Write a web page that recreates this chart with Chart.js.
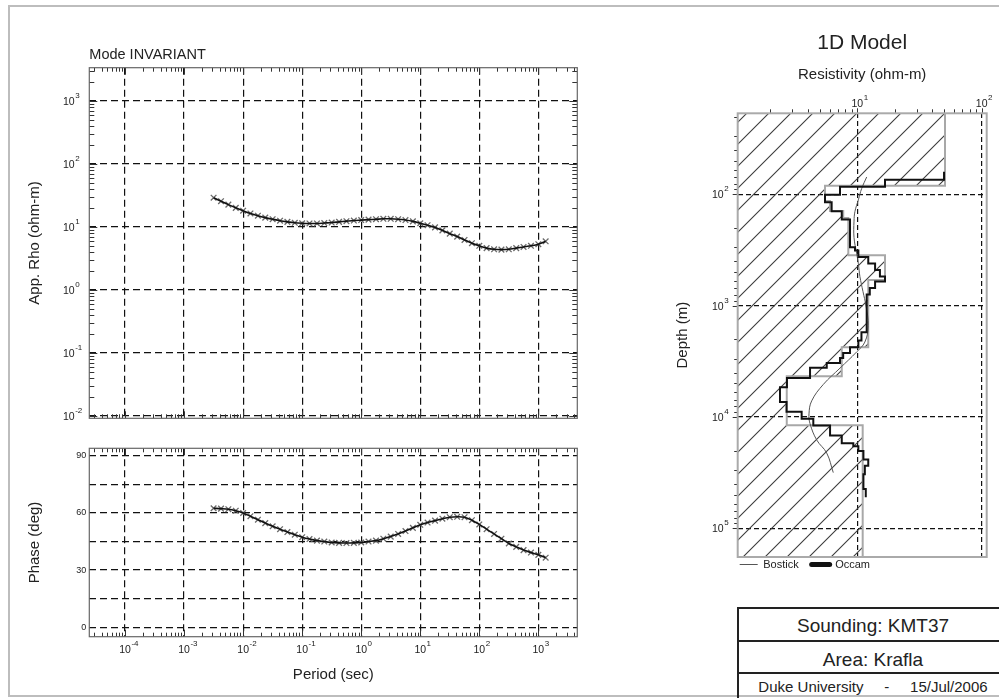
<!DOCTYPE html>
<html>
<head>
<meta charset="utf-8">
<script src="https://cdn.jsdelivr.net/npm/chart.js@4.4.1/dist/chart.umd.min.js"></script>
<style>
  html, body { margin: 0; padding: 0; background: #fff; }
  #page { position: relative; width: 999px; height: 698px; overflow: hidden; background: #fff;
          font-family: "Liberation Sans", Arial, Helvetica, sans-serif; color: #222; }
  #page canvas { position: absolute; }
  .border { position: absolute; left: 8px; top: 5px; width: 1010px; height: 692px;
            border: 2px solid #bdbdbd; box-sizing: border-box; }
  .hl { position: absolute; left: 737px; width: 280px; height: 2px; background: #222; }
  .vl { position: absolute; left: 737px; top: 607px; width: 2px; height: 100px; background: #222; }
  .cell { position: absolute; left: 739px; width: 268px; text-align: center; line-height: 20px; white-space: pre; }
</style>
</head>
<body>
<div id="page">
  <div class="border"></div>
  <canvas id="rhoChart" width="620" height="430" style="left:0;top:0"></canvas>
  <canvas id="phaseChart" width="620" height="268" style="left:0;top:430px"></canvas>
  <canvas id="modelChart" width="359" height="600" style="left:640px;top:0"></canvas>

  <!-- sounding stamp -->
  <div class="hl" style="top:607px"></div>
  <div class="hl" style="top:639.5px"></div>
  <div class="hl" style="top:671.5px"></div>
  <div class="vl"></div>
  <div class="cell" style="top:616px;font-size:19px">Sounding: KMT37</div>
  <div class="cell" style="top:649.5px;font-size:19px">Area: Krafla</div>
  <div class="cell" style="top:676.5px;font-size:15px">Duke University     -     15/Jul/2006</div>
</div>

<script>
const FONT = '"Liberation Sans", Arial, Helvetica, sans-serif';
Chart.defaults.font.family = FONT;
Chart.defaults.color = '#222';

// sounding curves (period in s)
const periods = [0.00316, 0.00422, 0.00562, 0.0075, 0.01, 0.0133, 0.0178, 0.0237, 0.0316, 0.0422,
    0.0562, 0.075, 0.1, 0.133, 0.178, 0.237, 0.316, 0.422, 0.562, 0.75,
    1, 1.33, 1.78, 2.37, 3.16, 4.22, 5.62, 7.5, 10, 13.3,
    17.8, 23.7, 31.6, 42.2, 56.2, 75, 100, 133, 178, 237,
    316, 422, 562, 750, 1000, 1330];
const appRho = [29, 25.5, 22.5, 20, 18, 16.3, 15, 14, 13.2, 12.5,
    12, 11.6, 11.4, 11.3, 11.3, 11.5, 11.7, 12, 12.3, 12.6,
    12.8, 13, 13.2, 13.4, 13.4, 13.2, 12.8, 12.2, 11.4, 10.6,
    9.8, 8.8, 7.8, 7, 6.2, 5.5, 5.0, 4.6, 4.4, 4.35,
    4.4, 4.6, 4.8, 5.0, 5.3, 5.9];
const phaseDeg = [62.5, 62.3, 62, 61.2, 60, 58.3, 56.5, 54.7, 53, 51.5,
    50, 48.6, 47.3, 46.3, 45.5, 45, 44.5, 44.3, 44.2, 44.3,
    44.5, 45, 45.5, 46.5, 47.6, 49, 50.5, 52.2, 53.8, 55,
    56, 57, 57.8, 58, 57.8, 56.2, 54, 51.5, 49, 46.5,
    44, 42.2, 40.5, 39.2, 38, 36.5];

// 1D model: layer tops/bottoms in m, resistivity in ohm-m
const occamDepth = [62.7, 73.8, 85.5, 101, 117.6, 142, 168, 299, 319, 366,
    419, 479, 548, 607, 695, 795, 1733, 2051, 2360, 2667,
    2952, 3267, 3614, 4455, 5418, 7345, 8993, 10380, 11950, 14630,
    17200, 18300, 20240, 24150, 27400, 32700, 44400, 52500];
const occamRho = [49.8, 16.7, 7.26, 5.5, 6.22, 7.5, 8.74, 9.59, 10.2, 12.25,
    13.9, 15.2, 16.7, 13.9, 12.6, 11.9, 10.8, 10.2, 8.74, 7.7,
    7.26, 5.68, 4.17, 2.72, 2.39, 2.70, 3.57, 4.43, 6.04, 7.5,
    9.29, 10.2, 11.2, 12.25, 11.5, 11.2, 11.7];
const bostickDepth = [69.8, 88.5, 112, 142, 174, 244, 342, 419, 549, 743, 1008,
    1514, 2122, 2600, 3640, 5100, 7160, 9380, 11480, 16100, 21100, 31600];
const bostickRho = [11.9, 10.85, 10.2, 9.58, 9.41, 9.41, 9.89, 10.2, 10.5, 11.1, 11.75,
    12.25, 11.5, 9.89, 7.26, 5.33, 4.30, 4.09, 4.17, 4.72, 5.68, 6.41];
const boundDepth = [18.7, 83.8, 115, 141, 163, 353, 587, 2360, 4310, 11880, 181000];
const boundRho = [50.7, 5.5, 6.03, 7.71, 8.47, 16.7, 12.25, 7.5, 2.71, 11.05];

// axis decades / ticks
const periodDecades = [-4, -3, -2, -1, 0, 1, 2, 3];
const rhoDecades = [-2, -1, 0, 1, 2, 3];
const phaseTicks = [0, 15, 30, 45, 60, 75, 90];
const phaseLabels = [0, 30, 60, 90];
const resDecades = [1, 2];
const depthDecades = [2, 3, 4, 5];

const periodMin = 2.48e-5, periodMax = 4570;
const resMin = 1.093, resMax = 109.7;

const pow10 = e => Math.pow(10, e);
const pairs = (xs, ys) => xs.map((x, i) => ({x: x, y: ys[i]}));
// layered model -> outline, resistivity constant between consecutive depths
const steps = (depth, rho) => rho.flatMap((r, i) => [{x: r, y: depth[i]}, {x: r, y: depth[i + 1]}]);

const decadeTicks = exps => scale => { scale.ticks = exps.map(e => ({value: pow10(e)})); };
const fixWidth = w => scale => { scale.width = w; };
const fixHeight = h => scale => { scale.height = h; };
const dashed = (dash, width) => ({
    grid: { color: '#111', lineWidth: width, drawTicks: false },
    border: { display: false, dash: dash }
});

function logMarks(min, max) {
    const out = [];
    for (let k = Math.floor(Math.log10(min)); k <= Math.ceil(Math.log10(max)); k++) {
        for (let m = 1; m <= 9; m++) {
            const v = m * Math.pow(10, k);
            if (v >= min && v <= max) out.push({v: v, major: m === 1});
        }
    }
    return out;
}

// "10" with a raised exponent
function drawPow(ctx, x, y, exp, anchor) {
    ctx.font = '10.5px ' + FONT;
    const w = ctx.measureText('10').width;
    const left = anchor === 'left' ? x : x - w / 2;
    ctx.textAlign = 'left';
    ctx.textBaseline = 'alphabetic';
    ctx.fillText('10', left, y);
    ctx.font = '8px ' + FONT;
    ctx.fillText(String(exp), left + w + 0.5, y - 7);
}

// edge ticks, power-of-ten labels and plot frame
const plotDecor = {
    id: 'plotDecor',
    afterDraw(chart, args, opts) {
        const {ctx, chartArea: a, scales} = chart;
        ctx.save();
        ctx.strokeStyle = '#333';
        ctx.lineWidth = 1;
        (opts.ticks || []).forEach(t => {
            const sc = scales[t.axis];
            const s = t.out ? -1 : 1;
            ctx.beginPath();
            logMarks(sc.min, sc.max).forEach(({v, major}) => {
                const len = major ? t.major : t.minor;
                const p = Math.round(sc.getPixelForValue(v)) + 0.5;
                if (t.edge === 'top') { ctx.moveTo(p, a.top); ctx.lineTo(p, a.top + s * len); }
                if (t.edge === 'bottom') { ctx.moveTo(p, a.bottom); ctx.lineTo(p, a.bottom - s * len); }
                if (t.edge === 'left') { ctx.moveTo(a.left, p); ctx.lineTo(a.left + s * len, p); }
                if (t.edge === 'right') { ctx.moveTo(a.right, p); ctx.lineTo(a.right - s * len, p); }
            });
            ctx.stroke();
        });
        ctx.fillStyle = '#222';
        (opts.labels || []).forEach(l => {
            const sc = scales[l.axis];
            l.exps.forEach(e => {
                const p = sc.getPixelForValue(pow10(e));
                if (l.axis === 'x') drawPow(ctx, p, l.at, e, 'center');
                else drawPow(ctx, l.at, p + 4, e, 'left');
            });
        });
        if (opts.frame) {
            ctx.strokeStyle = opts.frame.color;
            ctx.lineWidth = opts.frame.width;
            ctx.strokeRect(a.left, a.top, a.width, a.height);
        }
        ctx.restore();
    }
};

const base = { responsive: false, animation: false, devicePixelRatio: 1 };
const noTips = { legend: { display: false }, tooltip: { enabled: false } };

function curveSets(ys) {
    return [
        { label: 'Response', data: pairs(periods, ys), showLine: true, borderColor: '#111',
          borderWidth: 1.6, pointRadius: 0, tension: 0.3 },
        { label: 'Data', data: pairs(periods, ys), pointStyle: 'crossRot', pointRadius: 4,
          borderColor: '#6a6a6a', borderWidth: 1.3, backgroundColor: 'transparent' }
    ];
}

// Apparent resistivity
new Chart(document.getElementById('rhoChart'), {
    type: 'scatter',
    data: { datasets: curveSets(appRho) },
    options: Object.assign({}, base, {
        layout: { padding: { left: 22, right: 42.7, top: 46, bottom: 0 } },
        plugins: Object.assign({}, noTips, {
            title: { display: true, text: 'Mode INVARIANT', align: 'start', fullSize: false,
                     font: { size: 14.5, weight: 'normal' }, color: '#222', padding: { top: 0, bottom: 4.3 } },
            plotDecor: {
                ticks: [
                    { axis: 'x', edge: 'top', minor: 4, major: 7 },
                    { axis: 'x', edge: 'bottom', minor: 4, major: 7 },
                    { axis: 'y', edge: 'left', minor: 5, major: 8 },
                    { axis: 'y', edge: 'right', minor: 5, major: 8 }
                ],
                labels: [{ axis: 'y', exps: rhoDecades, at: 63 }],
                frame: { color: '#666', width: 1.2 }
            }
        }),
        scales: {
            x: Object.assign({ type: 'logarithmic', min: periodMin, max: periodMax,
                afterBuildTicks: decadeTicks(periodDecades), afterFit: fixHeight(11.7),
                ticks: { display: false } }, dashed([7, 4], 1.2)),
            y: Object.assign({ type: 'logarithmic', min: 0.00919, max: 3342,
                afterBuildTicks: decadeTicks(rhoDecades), afterFit: fixWidth(67.3),
                ticks: { display: false },
                title: { display: true, text: 'App. Rho (ohm-m)', font: { size: 15 }, color: '#222' } },
                dashed([7, 4], 1.2))
        }
    }),
    plugins: [plotDecor]
});

// Phase
new Chart(document.getElementById('phaseChart'), {
    type: 'scatter',
    data: { datasets: curveSets(phaseDeg) },
    options: Object.assign({}, base, {
        layout: { padding: { left: 22, right: 42.7, top: 18.3, bottom: 10 } },
        plugins: Object.assign({}, noTips, {
            plotDecor: {
                ticks: [
                    { axis: 'x', edge: 'top', minor: 4, major: 7 },
                    { axis: 'x', edge: 'bottom', minor: 4, major: 7 }
                ],
                labels: [{ axis: 'x', exps: periodDecades, at: 223 }],
                frame: { color: '#666', width: 1.2 }
            }
        }),
        scales: {
            x: Object.assign({ type: 'logarithmic', min: periodMin, max: periodMax,
                afterBuildTicks: decadeTicks(periodDecades), afterFit: fixHeight(51.3),
                ticks: { display: false },
                title: { display: true, text: 'Period (sec)', font: { size: 15 }, color: '#222' } },
                dashed([7, 4], 1.2)),
            y: Object.assign({ type: 'linear', min: -5, max: 94,
                afterBuildTicks: s => { s.ticks = phaseTicks.map(v => ({value: v})); },
                afterFit: fixWidth(67.3),
                ticks: { font: { size: 9 }, padding: 3, autoSkip: false,
                         callback: v => phaseLabels.includes(v) ? String(v) : '' },
                title: { display: true, text: 'Phase (deg)', font: { size: 15 }, color: '#222' } },
                dashed([7, 4], 1.2))
        }
    }),
    plugins: [plotDecor]
});

// 1D model
const modelCanvas = document.getElementById('modelChart');
const hatch = (() => {
    const s = 22;
    const c = document.createElement('canvas');
    c.width = s; c.height = s;
    const g = c.getContext('2d');
    g.strokeStyle = '#3c3c3c';
    g.lineWidth = 1.1;
    g.beginPath();
    g.moveTo(0, s); g.lineTo(s, 0);
    g.moveTo(-2, 2); g.lineTo(2, -2);
    g.moveTo(s - 2, s + 2); g.lineTo(s + 2, s - 2);
    g.stroke();
    return modelCanvas.getContext('2d').createPattern(c, 'repeat');
})();

new Chart(modelCanvas, {
    type: 'line',
    data: {
        datasets: [
            { label: 'Occam', data: steps(occamDepth, occamRho), borderColor: '#111',
              borderWidth: 2, pointRadius: 0, fill: false },
            { label: 'Bostick', data: pairs(bostickRho, bostickDepth), borderColor: '#555',
              borderWidth: 1, pointRadius: 0, tension: 0.4, fill: false },
            { label: 'Bound', data: steps(boundDepth, boundRho), borderColor: '#a8a8a8',
              borderWidth: 2, pointRadius: 0, fill: { value: resMin }, backgroundColor: hatch }
        ]
    },
    options: Object.assign({}, base, {
        indexAxis: 'y',
        layout: { padding: { left: 30, right: 12.3, top: 30.4, bottom: 20 } },
        plugins: {
            tooltip: { enabled: false },
            title: { display: true, text: '1D Model', fullSize: false,
                     font: { size: 21, weight: 'normal' }, color: '#222', padding: { top: 0, bottom: 6.4 } },
            legend: {
                display: true, position: 'bottom', align: 'start', fullSize: false,
                labels: {
                    usePointStyle: true, pointStyle: 'line', pointStyleWidth: 18, padding: 2,
                    font: { size: 11 }, color: '#222',
                    filter: item => item.text !== 'Bound',
                    sort: (a, b) => b.datasetIndex - a.datasetIndex,
                    // wider gap after Bostick, thick pill for Occam
                    generateLabels: chart => Chart.defaults.plugins.legend.labels.generateLabels(chart)
                        .map(item => item.text === 'Occam' ? Object.assign(item, { lineWidth: 5, lineCap: 'round' })
                                   : item.text === 'Bostick' ? Object.assign(item, { text: 'Bostick\u2002\u2002' }) : item)
                }
            },
            plotDecor: {
                ticks: [
                    { axis: 'x', edge: 'top', out: true, minor: 4, major: 5 },
                    { axis: 'y', edge: 'left', out: true, minor: 3.5, major: 5 }
                ],
                labels: [
                    { axis: 'x', exps: resDecades, at: 106.5 },
                    { axis: 'y', exps: depthDecades, at: 72 }
                ],
                frame: { color: '#aaa', width: 2 }
            }
        },
        scales: {
            x: Object.assign({ type: 'logarithmic', position: 'top', min: resMin, max: resMax,
                afterBuildTicks: decadeTicks(resDecades), afterFit: fixHeight(51.3),
                ticks: { display: false },
                title: { display: true, text: 'Resistivity (ohm-m)', font: { size: 15 }, color: '#222' } },
                dashed([5, 3], 1.2)),
            y: Object.assign({ type: 'logarithmic', reverse: true, min: 18.7, max: 181000,
                afterBuildTicks: decadeTicks(depthDecades), afterFit: fixWidth(67.7),
                ticks: { display: false },
                title: { display: true, text: 'Depth (m)', font: { size: 15 }, color: '#222' } },
                dashed([5, 3], 1.2))
        }
    }),
    plugins: [plotDecor]
});
</script>
</body>
</html>
